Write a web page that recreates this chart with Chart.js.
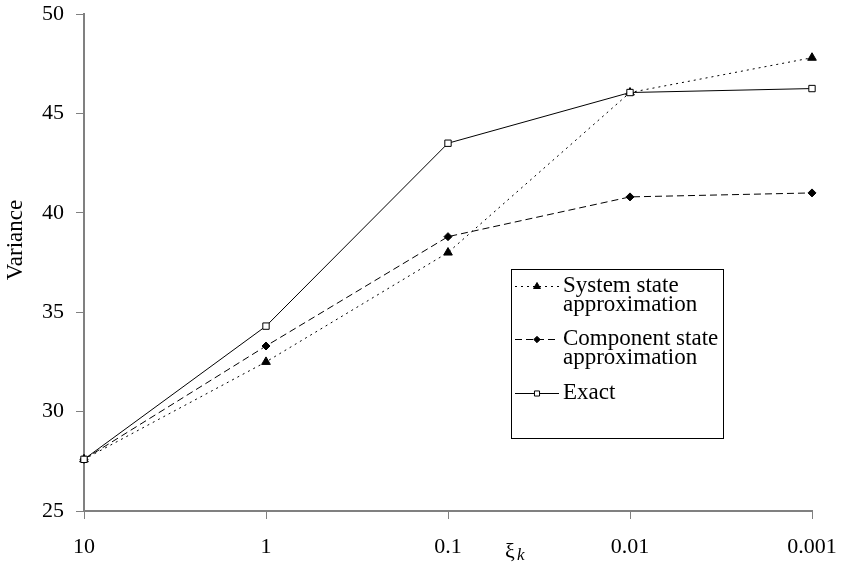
<!DOCTYPE html>
<html lang="en">
<head>
    <meta charset="UTF-8">
    <title>Variance</title>
    <script src="https://cdn.jsdelivr.net/npm/chart.js"></script>
    <style>
        html, body { margin: 0; padding: 0; background: #fff; }
        #wrap { width: 841px; height: 570px; }
    </style>
</head>
<body>
<div id="wrap"><canvas id="myChart" width="841" height="570"></canvas></div>
<script>
    var categories = ['10', '1', '0.1', '0.01', '0.001'];
    var systemState = [27.6, 32.5, 38.0, 46.05, 47.8];
    var componentState = [27.6, 33.3, 38.8, 40.8, 41.0];
    var exact = [27.6, 34.3, 43.5, 46.05, 46.25];
    var yTicks = [25, 30, 35, 40, 45, 50];

    var serif = '"Liberation Serif", "Times New Roman", serif';

    // legend box, y title and the xi_k axis title drawn by hand
    var extras = {
        id: 'extras',
        afterDraw: function (chart) {
            var ctx = chart.ctx;
            ctx.save();
            ctx.fillStyle = '#000';

            // y title
            ctx.save();
            ctx.translate(16, 240);
            ctx.rotate(-Math.PI / 2);
            ctx.font = '23px ' + serif;
            ctx.textAlign = 'center';
            ctx.textBaseline = 'middle';
            ctx.fillText('Variance', 0, 0);
            ctx.restore();

            // x title
            ctx.textBaseline = 'alphabetic';
            ctx.font = '22px ' + serif;
            ctx.fillText('\u03BE', 505, 558);
            ctx.font = 'italic 17px ' + serif;
            ctx.fillText('k', 517, 560);

            // legend
            ctx.strokeStyle = '#000';
            ctx.lineWidth = 1;
            ctx.strokeRect(511.5, 269.5, 212, 169);
            var rows = [
                { ds: chart.data.datasets[0], y: 286, lines: ['System state', 'approximation'] },
                { ds: chart.data.datasets[1], y: 339, lines: ['Component state', 'approximation'] },
                { ds: chart.data.datasets[2], y: 393, lines: ['Exact'] }
            ];
            rows.forEach(function (r) {
                ctx.strokeStyle = r.ds.borderColor;
                ctx.lineWidth = 1;
                ctx.setLineDash(r.ds.borderDash || []);
                ctx.beginPath();
                ctx.moveTo(515, r.y + 0.5);
                ctx.lineTo(559, r.y + 0.5);
                ctx.stroke();
                ctx.setLineDash([]);
                ctx.strokeStyle = r.ds.pointBorderColor;
                ctx.fillStyle = r.ds.pointBackgroundColor;
                Chart.helpers.drawPoint(ctx, {
                    pointStyle: r.ds.pointStyle,
                    radius: r.ds.pointRadius * 0.8,
                    borderWidth: 1
                }, 537, r.y + 0.5);
                ctx.fillStyle = '#000';
                ctx.font = '23px ' + serif;
                ctx.textBaseline = 'middle';
                r.lines.forEach(function (t, i) {
                    ctx.fillText(t, 563, r.y + i * 19);
                });
            });
            ctx.restore();
        }
    };

    const ctx = document.getElementById('myChart').getContext('2d');
    let myChart = new Chart(ctx, {
        type: 'line',
        data: {
            labels: categories,
            datasets: [{
                label: 'System state approximation',
                data: systemState,
                borderColor: '#000',
                borderWidth: 1,
                borderDash: [2, 4],
                pointStyle: 'triangle',
                pointRadius: 5,
                pointBackgroundColor: '#000',
                pointBorderColor: '#000',
                order: 3
            }, {
                label: 'Component state approximation',
                data: componentState,
                borderColor: '#000',
                borderWidth: 1,
                borderDash: [7, 4],
                pointStyle: 'rectRot',
                pointRadius: 4,
                pointBackgroundColor: '#000',
                pointBorderColor: '#000',
                order: 2
            }, {
                label: 'Exact',
                data: exact,
                borderColor: '#000',
                borderWidth: 1,
                pointStyle: 'rect',
                pointRadius: 4.5,
                pointBackgroundColor: '#fff',
                pointBorderColor: '#000',
                order: 1
            }]
        },
        options: {
            responsive: false,
            animation: false,
            layout: { padding: { top: 14, right: 29, left: 0, bottom: 0 } },
            plugins: {
                legend: { display: false },
                tooltip: { enabled: false }
            },
            scales: {
                x: {
                    offset: false,
                    grid: { drawOnChartArea: false, drawTicks: true, tickLength: 8, color: '#808080' },
                    border: { display: true, color: '#808080', width: 2 },
                    ticks: { color: '#000', font: { family: serif, size: 22 }, padding: 15, maxRotation: 0 },
                    afterFit: function (scale) {
                        scale.height = 59;
                        scale.paddingLeft = 0;
                        scale.paddingRight = 0;
                    }
                },
                y: {
                    min: 25,
                    max: 50,
                    afterBuildTicks: function (scale) {
                        scale.ticks = yTicks.map(function (v) { return { value: v }; });
                    },
                    grid: { drawOnChartArea: false, drawTicks: true, tickLength: 8, color: '#808080' },
                    border: { display: true, color: '#808080', width: 2 },
                    ticks: { color: '#000', font: { family: serif, size: 22 }, padding: 12 },
                    afterFit: function (scale) {
                        scale.width = 84;
                        scale.paddingTop = 0;
                        scale.paddingBottom = 0;
                    }
                }
            }
        },
        plugins: [extras]
    });
</script>
</body>
</html>
